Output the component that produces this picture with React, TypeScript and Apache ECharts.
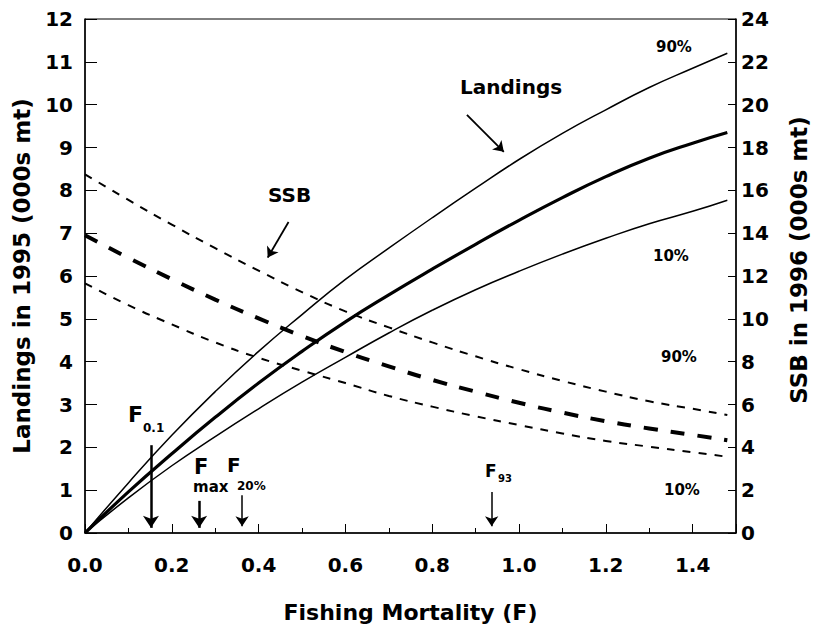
import React, { useEffect, useRef } from "react";
import * as echarts from "echarts";

const F = [0, 0.1, 0.2, 0.3, 0.4, 0.5, 0.6, 0.7, 0.8, 0.9, 1.0, 1.1, 1.2, 1.3, 1.4, 1.48];
const landHi = [0, 1.17, 2.28, 3.3, 4.24, 5.1, 5.92, 6.65, 7.36, 8.05, 8.72, 9.33, 9.88, 10.4, 10.85, 11.2];
const landMed = [0, 0.96, 1.85, 2.7, 3.5, 4.24, 4.93, 5.56, 6.16, 6.74, 7.3, 7.83, 8.32, 8.75, 9.1, 9.35];
const landLo = [0, 0.82, 1.57, 2.25, 2.9, 3.52, 4.1, 4.67, 5.2, 5.68, 6.11, 6.51, 6.88, 7.22, 7.51, 7.77];
const ssbHi = [16.75, 15.55, 14.4, 13.3, 12.25, 11.25, 10.35, 9.6, 8.9, 8.25, 7.65, 7.1, 6.6, 6.15, 5.8, 5.51];
const ssbMed = [13.9, 12.85, 11.85, 10.9, 10.02, 9.2, 8.45, 7.78, 7.15, 6.6, 6.08, 5.62, 5.22, 4.88, 4.58, 4.33];
const ssbLo = [11.66, 10.64, 9.74, 8.9, 8.18, 7.58, 7.0, 6.4, 5.9, 5.45, 5.04, 4.65, 4.3, 4.03, 3.77, 3.56];

const refF = { f01: 0.152, fmax: 0.263, f20: 0.362, f93: 0.937 };

const FONT = "'DejaVu Sans', 'Liberation Sans', Arial, sans-serif";

const pairs = (ys: number[]) => F.map((x, i) => [x, ys[i]]);

export default function App() {
  const ref = useRef<HTMLDivElement>(null);
  useEffect(() => {
    if (!ref.current) return;
    const chart = echarts.init(ref.current, undefined, { renderer: "svg" });
    const arrowLine = (x0: number, y0: number, x1: number, y1: number, w: number, head: number) => ({
      type: "line",
      data: [],
      markLine: {
        silent: true,
        symbol: ["none", "arrow"],
        symbolSize: head,
        label: { show: false },
        emphasis: { disabled: true },
        lineStyle: { color: "#000", width: w, type: "solid" },
        itemStyle: { color: "#000" },
        data: [[{ coord: [x0, y0] }, { coord: [x1, y1] }]],
      },
    });
    const txt = (x: number, y: number, text: string, size: number) => ({
      type: "text",
      x,
      y,
      style: { text, font: `bold ${size}px ${FONT}`, fill: "#000", textAlign: "left", textVerticalAlign: "middle" },
    });
    chart.setOption({
      animation: false,
      grid: { left: 85, right: 77, top: 19, bottom: 96, show: true, borderColor: "#000", borderWidth: 1 },
      xAxis: {
        type: "value",
        min: 0,
        max: 1.5,
        interval: 0.2,
        name: "Fishing Mortality (F)",
        nameLocation: "middle",
        nameGap: 68,
        nameTextStyle: { fontFamily: FONT, fontWeight: "bold", fontSize: 22, color: "#000" },
        axisLine: { lineStyle: { color: "#000", width: 1.5 } },
        axisTick: { inside: true, length: 9, lineStyle: { color: "#000" } },
        minorTick: { show: true, splitNumber: 2, length: 5, lineStyle: { color: "#000" } },
        splitLine: { show: false },
        axisLabel: {
          margin: 22,
          fontFamily: FONT,
          fontWeight: "bold",
          fontSize: 20,
          color: "#000",
          formatter: (v: number) => (v > 1.45 ? "" : v.toFixed(1)),
        },
      },
      yAxis: [
        {
          type: "value",
          min: 0,
          max: 12,
          interval: 1,
          name: "Landings in 1995 (000s mt)",
          nameLocation: "middle",
          nameGap: 52,
          nameTextStyle: { fontFamily: FONT, fontWeight: "bold", fontSize: 23, color: "#000" },
          axisLine: { show: true, lineStyle: { color: "#000", width: 1.5 } },
          axisTick: { show: true, inside: true, length: 12, lineStyle: { color: "#000" } },
          splitLine: { show: false },
          axisLabel: { margin: 12, fontFamily: FONT, fontWeight: "bold", fontSize: 20, color: "#000" },
        },
        {
          type: "value",
          min: 0,
          max: 24,
          interval: 2,
          position: "right",
          name: "SSB in 1996 (000s mt)",
          nameLocation: "middle",
          nameRotate: 90,
          nameGap: 51,
          nameTextStyle: { fontFamily: FONT, fontWeight: "bold", fontSize: 23, color: "#000", padding: [0, 0, 0, 32] },
          axisLine: { show: true, lineStyle: { color: "#000", width: 1.5 } },
          axisTick: { show: true, inside: true, length: 8, lineStyle: { color: "#000" } },
          splitLine: { show: false },
          axisLabel: { margin: 5, fontFamily: FONT, fontWeight: "bold", fontSize: 20, color: "#000" },
        },
      ],
      series: [
        { type: "line", yAxisIndex: 0, data: pairs(landHi), smooth: true, showSymbol: false, lineStyle: { color: "#000", width: 1.5 } },
        { type: "line", yAxisIndex: 0, data: pairs(landMed), smooth: true, showSymbol: false, lineStyle: { color: "#000", width: 3.2 } },
        { type: "line", yAxisIndex: 0, data: pairs(landLo), smooth: true, showSymbol: false, lineStyle: { color: "#000", width: 1.5 } },
        { type: "line", yAxisIndex: 1, data: pairs(ssbHi), smooth: true, showSymbol: false, lineStyle: { color: "#000", width: 2, type: [8, 8] } },
        { type: "line", yAxisIndex: 1, data: pairs(ssbMed), smooth: true, showSymbol: false, lineStyle: { color: "#000", width: 4, type: [14, 13] } },
        { type: "line", yAxisIndex: 1, data: pairs(ssbLo), smooth: true, showSymbol: false, lineStyle: { color: "#000", width: 2, type: [8, 8] } },
        arrowLine(refF.f01, 2.05, refF.f01, 0.12, 2.5, 12),
        arrowLine(refF.fmax, 0.75, refF.fmax, 0.12, 2.5, 12),
        arrowLine(refF.f20, 0.88, refF.f20, 0.16, 1.5, 10),
        arrowLine(refF.f93, 0.96, refF.f93, 0.16, 1.5, 10),
        arrowLine(0.469, 7.26, 0.421, 6.43, 1.8, 10),
        arrowLine(0.88, 9.76, 0.965, 8.9, 1.8, 10),
      ],
      graphic: [
        txt(128, 414, "F", 22),
        txt(143, 428, "0.1", 12),
        txt(194, 467, "F", 21),
        txt(193, 487, "max", 15),
        txt(227, 465, "F", 20),
        txt(237, 486, "20%", 12),
        txt(485, 471, "F", 17),
        txt(498, 478, "93", 10),
        txt(268, 195, "SSB", 20),
        txt(460, 87, "Landings", 20),
        txt(656, 47, "90%", 15),
        txt(653, 256, "10%", 15),
        txt(661, 357, "90%", 15),
        txt(664, 490, "10%", 15),
      ],
    });
    return () => chart.dispose();
  }, []);
  return <div ref={ref} style={{ position: "fixed", left: 0, top: 0, width: 818, height: 629, background: "#fff" }} />;
}
